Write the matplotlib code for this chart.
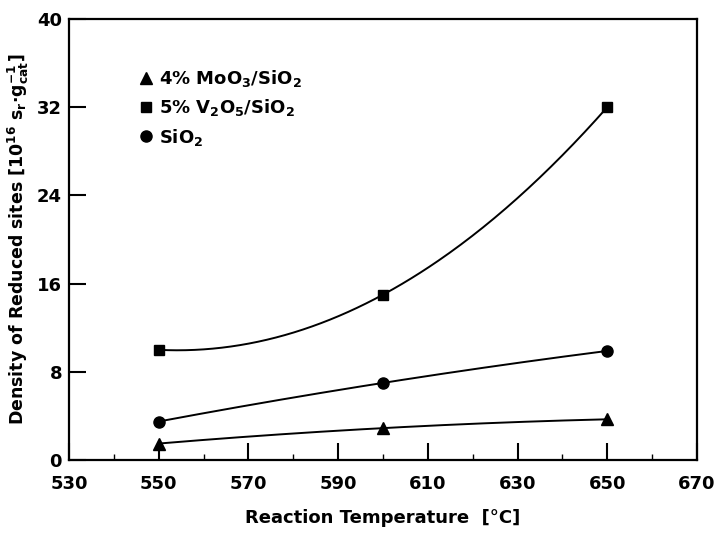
import matplotlib.pyplot as plt
import numpy as np

plt.rcParams['font.family'] = ['DejaVu Sans']
plt.rcParams['font.weight'] = 'bold'
plt.rcParams['mathtext.default'] = 'regular'

# data
temps = [550, 600, 650]
moo3 = [1.5, 2.9, 3.7]
v2o5 = [10.0, 15.0, 32.0]
sio2 = [3.5, 7.0, 9.9]

labels = [r'4% MoO$_3$/SiO$_2$', r'5% V$_2$O$_5$/SiO$_2$', r'SiO$_2$']

fig = plt.figure(figsize=(7.17, 5.35), dpi=100)
ax = fig.add_axes([0.0962, 0.140, 0.8758, 0.8245])

# smooth curve through each set of points (quadratic through 3 points)
xs = np.linspace(550, 650, 200)
for y, m, ms in [(moo3, '^', 8), (v2o5, 's', 7), (sio2, 'o', 8)]:
    c = np.polyfit(temps, y, 2)
    ax.plot(xs, np.polyval(c, xs), color='black', lw=1.4)
    ax.plot(temps, y, ls='none', marker=m, color='black', markersize=ms)

ax.set_xlim(530, 670)
ax.set_ylim(0, 40)
ax.set_xticks(np.arange(530, 671, 20))
ax.set_xticks(np.arange(540, 670, 20), minor=True)
ax.set_yticks(np.arange(0, 41, 8))
ax.tick_params(axis='both', which='major', direction='in', length=12, width=1.5,
               labelsize=13)
ax.tick_params(axis='x', which='major', pad=11)
ax.tick_params(axis='y', which='major', pad=5)
ax.tick_params(axis='x', which='minor', direction='in', length=4, width=1)
for lab in ax.get_xticklabels() + ax.get_yticklabels():
    lab.set_fontweight('bold')
for s in ax.spines.values():
    s.set_linewidth(1.6)

ax.set_xlabel('Reaction Temperature  [°C]', fontsize=13, fontweight='bold', labelpad=11)
ax.set_ylabel('Density of Reduced sites [10$^{16}$ s$_r$·g$^{-1}_{cat}$]',
              fontsize=12.5, fontweight='bold', labelpad=4)

handles = [plt.Line2D([], [], ls='none', marker=m, color='black', markersize=ms)
           for m, ms in [('^', 8), ('s', 7), ('o', 8)]]
ax.legend(handles, labels, loc='upper left', bbox_to_anchor=(0.085, 0.925),
          frameon=False, handlelength=0.8, handletextpad=0.35, labelspacing=0.45,
          prop={'size': 13, 'weight': 'bold'})

fig.savefig('out.png', dpi=100)
